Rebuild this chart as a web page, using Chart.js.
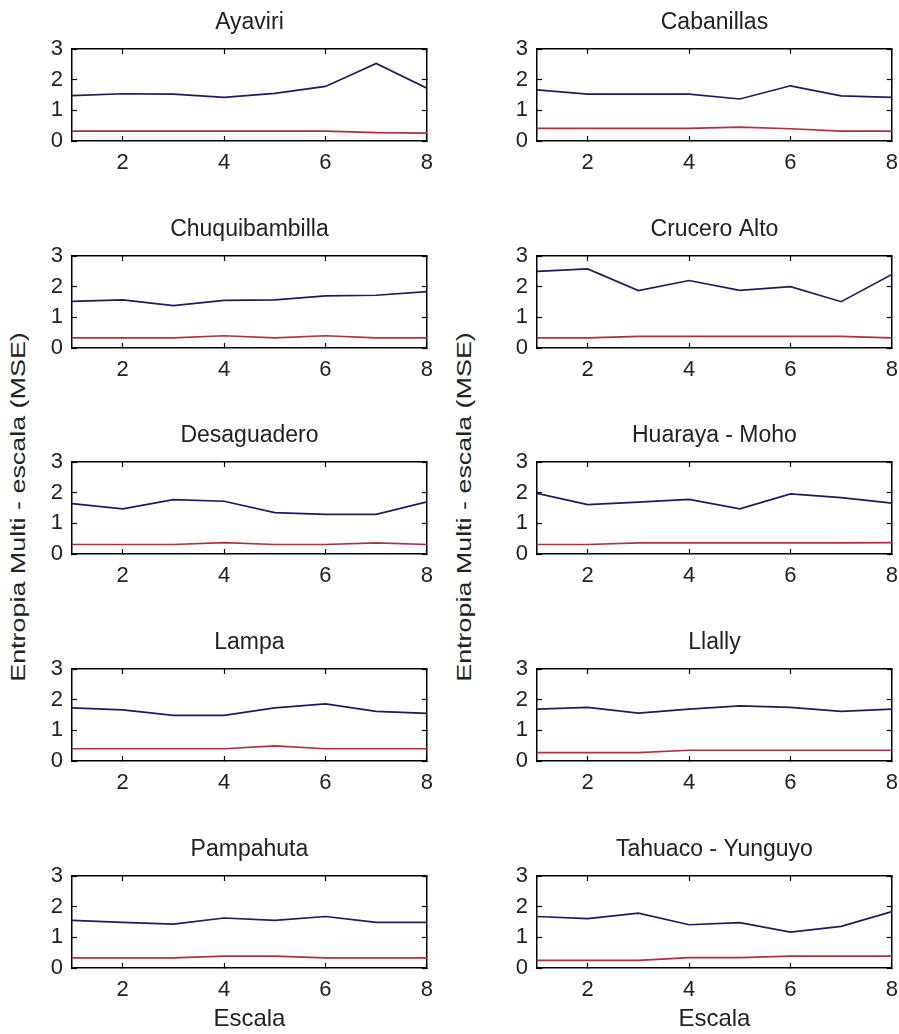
<!DOCTYPE html>
<html>
<head>
<meta charset="utf-8">
<script src="https://cdn.jsdelivr.net/npm/chart.js@4.4.1/dist/chart.umd.min.js"></script>
<style>
  html, body { margin: 0; padding: 0; background: #fff; }
  body { width: 899px; height: 1034px; position: relative; overflow: hidden;
         font-family: "Liberation Sans", Arial, sans-serif; }
  canvas.pane { position: absolute; }
  .ylab { position: absolute; top: 507px; white-space: nowrap; font-size: 21px; color: #222;
          transform: translate(-50%, -50%) rotate(-90deg) scaleX(1.28); }
</style>
</head>
<body>
<div class="ylab" style="left:18px">Entropia Multi - escala (MSE)</div>
<div class="ylab" style="left:464px">Entropia Multi - escala (MSE)</div>
<script>
// ---------- data ----------
const escala = [1, 2, 3, 4, 5, 6, 7, 8];
const xTickValues = [2, 4, 6, 8];
const yTickValues = [0, 1, 2, 3];
const stationNames = ['Ayaviri', 'Cabanillas', 'Chuquibambilla', 'Crucero Alto', 'Desaguadero',
                      'Huaraya - Moho', 'Lampa', 'Llally', 'Pampahuta', 'Tahuaco - Yunguyo'];

const blueAyaviri        = [1.48, 1.54, 1.53, 1.42, 1.55, 1.78, 2.53, 1.72];
const redAyaviri         = [0.32, 0.32, 0.32, 0.32, 0.32, 0.32, 0.27, 0.26];
const blueCabanillas     = [1.67, 1.53, 1.53, 1.53, 1.37, 1.80, 1.47, 1.42];
const redCabanillas      = [0.41, 0.41, 0.41, 0.41, 0.45, 0.40, 0.32, 0.32];
const blueChuquibambilla = [1.52, 1.57, 1.38, 1.55, 1.57, 1.70, 1.72, 1.84];
const redChuquibambilla  = [0.33, 0.33, 0.33, 0.40, 0.33, 0.40, 0.33, 0.33];
const blueCruceroAlto    = [2.50, 2.58, 1.87, 2.20, 1.88, 2.00, 1.51, 2.40];
const redCruceroAlto     = [0.33, 0.33, 0.38, 0.38, 0.38, 0.38, 0.38, 0.33];
const blueDesaguadero    = [1.64, 1.47, 1.77, 1.72, 1.35, 1.29, 1.29, 1.70];
const redDesaguadero     = [0.31, 0.31, 0.31, 0.37, 0.31, 0.31, 0.36, 0.31];
const blueHuarayaMoho    = [1.98, 1.61, 1.69, 1.78, 1.47, 1.96, 1.84, 1.66];
const redHuarayaMoho     = [0.31, 0.31, 0.36, 0.36, 0.36, 0.36, 0.36, 0.37];
const blueLampa          = [1.73, 1.67, 1.49, 1.49, 1.73, 1.86, 1.62, 1.55];
const redLampa           = [0.40, 0.40, 0.40, 0.40, 0.49, 0.40, 0.40, 0.40];
const blueLlally         = [1.69, 1.75, 1.56, 1.69, 1.80, 1.75, 1.62, 1.69];
const redLlally          = [0.27, 0.27, 0.27, 0.35, 0.35, 0.35, 0.35, 0.35];
const bluePampahuta      = [1.55, 1.49, 1.43, 1.63, 1.55, 1.68, 1.49, 1.49];
const redPampahuta       = [0.33, 0.33, 0.33, 0.39, 0.39, 0.33, 0.33, 0.33];
const blueTahuaco        = [1.68, 1.61, 1.79, 1.41, 1.48, 1.17, 1.36, 1.84];
const redTahuaco         = [0.25, 0.25, 0.25, 0.34, 0.34, 0.39, 0.39, 0.39];

const blueSeries = [blueAyaviri, blueCabanillas, blueChuquibambilla, blueCruceroAlto, blueDesaguadero,
                    blueHuarayaMoho, blueLampa, blueLlally, bluePampahuta, blueTahuaco];
const redSeries  = [redAyaviri, redCabanillas, redChuquibambilla, redCruceroAlto, redDesaguadero,
                    redHuarayaMoho, redLampa, redLlally, redPampahuta, redTahuaco];

// ---------- layout ----------
const FONT = "'Liberation Sans', Arial, sans-serif";
const TXT = '#222';
const plotTops = [49, 256, 462, 669, 876];
const plotH = 92;
// plot area: left column x 72..427, right column x 537..892
const colLayout = [
  { left: 0,   width: 447, yAxisW: 72, padRight: 20 },
  { left: 450, width: 462, yAxisW: 87, padRight: 20 }
];
const BLUE = '#1c1c60';
const RED = '#b0303c';

function toPoints(ys) { return escala.map((x, i) => ({ x: x, y: ys[i] })); }

function gridOpts() {
  return { drawOnChartArea: false, drawTicks: true, tickLength: -5, color: '#000', tickWidth: 1.2 };
}
function borderOpts() { return { display: true, color: '#000', width: 1.5 }; }

stationNames.forEach((name, idx) => {
  const col = idx % 2, row = Math.floor(idx / 2);
  const cl = colLayout[col];
  const isBottom = row === plotTops.length - 1;
  const titleH = 40;
  const xAxisH = isBottom ? (1034 - (plotTops[row] + plotH)) : 40;
  const top = plotTops[row] - titleH;
  const height = titleH + plotH + xAxisH;

  const cv = document.createElement('canvas');
  cv.className = 'pane';
  cv.width = cl.width; cv.height = height;
  cv.style.left = cl.left + 'px'; cv.style.top = top + 'px';
  cv.style.width = cl.width + 'px'; cv.style.height = height + 'px';
  document.body.appendChild(cv);

  const xTicksFn = s => { s.ticks = xTickValues.map(v => ({ value: v })); };
  const yTicksFn = s => { s.ticks = yTickValues.map(v => ({ value: v })); };

  new Chart(cv.getContext('2d'), {
    type: 'line',
    data: {
      datasets: [
        { data: toPoints(blueSeries[idx]), borderColor: BLUE, borderWidth: 1.7,
          pointRadius: 0, tension: 0, xAxisID: 'x', yAxisID: 'y' },
        { data: toPoints(redSeries[idx]), borderColor: RED, borderWidth: 1.7,
          pointRadius: 0, tension: 0, xAxisID: 'x', yAxisID: 'y' }
      ]
    },
    options: {
      responsive: false,
      animation: false,
      devicePixelRatio: 1,
      layout: { padding: { left: 0, right: cl.padRight, top: 0, bottom: 0 } },
      plugins: {
        legend: { display: false },
        tooltip: { enabled: false },
        title: { display: false }
      },
      scales: {
        x: {
          type: 'linear', position: 'bottom', min: 1, max: 8,
          afterBuildTicks: xTicksFn,
          afterFit: s => { s.height = xAxisH; },
          grid: gridOpts(), border: borderOpts(),
          ticks: { color: TXT, font: { family: FONT, size: 22 }, padding: 14,
                   maxRotation: 0, autoSkip: false },
          title: { display: isBottom, text: 'Escala', color: TXT,
                   font: { family: FONT, size: 24 }, padding: 0 }
        },
        x2: {
          // top axis: carries the station name as its title, centred over the plot
          type: 'linear', position: 'top', min: 1, max: 8,
          afterBuildTicks: xTicksFn,
          afterFit: s => { s.height = titleH; },
          grid: gridOpts(), border: borderOpts(),
          ticks: { display: false },
          title: { display: true, text: name, color: TXT,
                   font: { family: FONT, size: 23 }, padding: { top: 0, bottom: 0 } }
        },
        y: {
          type: 'linear', position: 'left', min: 0, max: 3,
          afterBuildTicks: yTicksFn,
          afterFit: s => { s.width = cl.yAxisW; },
          grid: gridOpts(), border: borderOpts(),
          ticks: { color: TXT, font: { family: FONT, size: 22 }, padding: 14 }
        },
        y2: {
          type: 'linear', position: 'right', min: 0, max: 3,
          afterBuildTicks: yTicksFn,
          afterFit: s => { s.width = 0; },
          grid: gridOpts(), border: borderOpts(),
          ticks: { display: false }
        }
      }
    }
  });
});
</script>
</body>
</html>
